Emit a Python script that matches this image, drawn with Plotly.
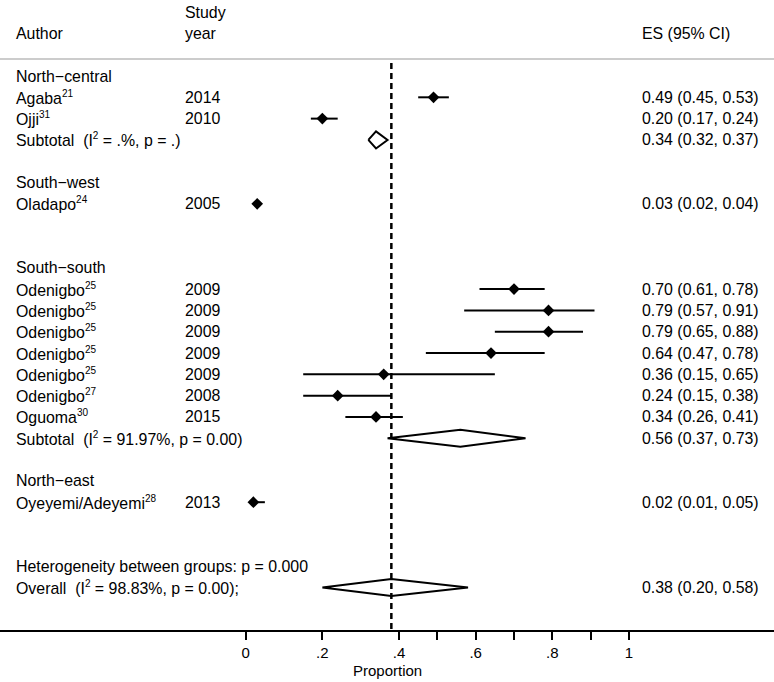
import plotly.graph_objects as go

# ---- data ----
def sup(s):
    return f"<sup><span style='font-size:10px'>{s}</span></sup>"

row_labels = ["North−central", "Agaba" + sup("21"), "Ojji" + sup("31"), "Subtotal  (I" + sup("2") + " = .%, p = .)", "",
              "South−west", "Oladapo" + sup("24"), "", "",
              "South−south", "Odenigbo" + sup("25"), "Odenigbo" + sup("25"), "Odenigbo" + sup("25"),
              "Odenigbo" + sup("25"), "Odenigbo" + sup("25"), "Odenigbo" + sup("27"), "Oguoma" + sup("30"),
              "Subtotal  (I" + sup("2") + " = 91.97%, p = 0.00)", "",
              "North−east", "Oyeyemi/Adeyemi" + sup("28"), "", "",
              "Heterogeneity between groups: p = 0.000",
              "Overall  (I" + sup("2") + " = 98.83%, p = 0.00);"]
row_years = ["", "2014", "2010", "", "", "", "2005", "", "", "",
             "2009", "2009", "2009", "2009", "2009", "2008", "2015", "", "", "", "2013", "", "", "", ""]

# studies: row index, ES, lower, upper
study_rows = [1, 2, 6, 10, 11, 12, 13, 14, 15, 16, 20]
study_es = [0.49, 0.20, 0.03, 0.70, 0.79, 0.79, 0.64, 0.36, 0.24, 0.34, 0.02]
study_lo = [0.45, 0.17, 0.02, 0.61, 0.57, 0.65, 0.47, 0.15, 0.15, 0.26, 0.01]
study_hi = [0.53, 0.24, 0.04, 0.78, 0.91, 0.88, 0.78, 0.65, 0.38, 0.41, 0.05]

# pooled: row index, ES, lower, upper
pooled_rows = [3, 17, 24]
pooled_es = [0.34, 0.56, 0.38]
pooled_lo = [0.32, 0.37, 0.20]
pooled_hi = [0.37, 0.73, 0.58]

overall_es = 0.38

tick_vals = [0, 0.2, 0.4, 0.5, 0.6, 0.7, 0.8, 0.9, 1]
tick_text = ["0", ".2", ".4", "", ".6", "", ".8", "", "1"]

# ---- geometry ----
W, H = 774, 682
ROW0 = 76.0
ROWH = 21.31
AX_Y = 630
X0PX, X1PX = 245.7, 629.0
scale = X1PX - X0PX
xr = [-X0PX / scale, (W - X0PX) / scale]
yr = [(AX_Y - ROW0) / ROWH, -ROW0 / ROWH]


def prow(px):
    return (px - ROW0) / ROWH


FONT = "Liberation Sans, Arial, Helvetica, sans-serif"
FS = 15.9
COL_AUTHOR, COL_YEAR, COL_ES = 13.5, 182.5, 639.5

fig = go.Figure()

# dashed overall line
fig.add_trace(go.Scatter(x=[overall_es, overall_es], y=[prow(63), yr[0]], mode="lines",
                         line=dict(color="black", width=2.5, dash="6px,4px"), hoverinfo="skip"))

# CI lines
for r, lo, hi in zip(study_rows, study_lo, study_hi):
    fig.add_trace(go.Scatter(x=[lo, hi], y=[r, r], mode="lines",
                             line=dict(color="black", width=2), hoverinfo="skip"))
# points
fig.add_trace(go.Scatter(x=study_es, y=study_rows, mode="markers",
                         marker=dict(symbol="diamond", size=9, color="black"), hoverinfo="skip"))

# pooled diamonds
hh = 0.40
for r, es, lo, hi in zip(pooled_rows, pooled_es, pooled_lo, pooled_hi):
    fig.add_trace(go.Scatter(x=[lo, es, hi, es, lo], y=[r, r - hh, r, r + hh, r], mode="lines",
                             line=dict(color="black", width=2), hoverinfo="skip"))

# header separator
fig.add_shape(type="line", xref="paper", yref="y", x0=0, x1=1, y0=prow(59), y1=prow(59),
              line=dict(color="#cccccc", width=2))

ann = []
def txt(x_px, y, s, anchor="left"):
    ann.append(dict(xref="paper", yref="y", x=x_px / W, y=y, text=s, showarrow=False,
                    xanchor=anchor, yanchor="middle", font=dict(family=FONT, size=FS, color="black")))

# headers
txt(COL_YEAR, prow(12), "Study")
txt(COL_AUTHOR, prow(33), "Author")
txt(COL_YEAR, prow(33), "year")
txt(COL_ES, prow(33), "ES (95% CI)")

for i, (lab, yy) in enumerate(zip(row_labels, row_years)):
    if lab:
        txt(COL_AUTHOR, i, lab)
    if yy:
        txt(COL_YEAR, i, yy)

for r, es, lo, hi in zip(study_rows, study_es, study_lo, study_hi):
    txt(COL_ES, r, f"{es:.2f} ({lo:.2f}, {hi:.2f})")
for r, es, lo, hi in zip(pooled_rows, pooled_es, pooled_lo, pooled_hi):
    txt(COL_ES, r, f"{es:.2f} ({lo:.2f}, {hi:.2f})")

# axis title
ann.append(dict(xref="paper", yref="paper", x=0.5, y=0, yshift=-(670 - AX_Y), text="Proportion",
                showarrow=False, xanchor="center", yanchor="middle",
                font=dict(family=FONT, size=15, color="black")))

fig.update_layout(
    width=W, height=H, showlegend=False,
    margin=dict(l=0, r=0, t=0, b=H - AX_Y),
    plot_bgcolor="white", paper_bgcolor="white",
    annotations=ann,
    xaxis=dict(range=xr, showgrid=False, zeroline=False, showline=True, linecolor="black", linewidth=2,
               tickmode="array", tickvals=tick_vals, ticktext=tick_text, ticks="outside", ticklen=8,
               tickwidth=2, tickcolor="black", tickfont=dict(family=FONT, size=15, color="black")),
    yaxis=dict(range=yr, visible=False),
)

fig.write_html("out.html", config={"displayModeBar": False},
               post_script="document.body.style.margin='0';document.body.style.overflow='hidden';")
